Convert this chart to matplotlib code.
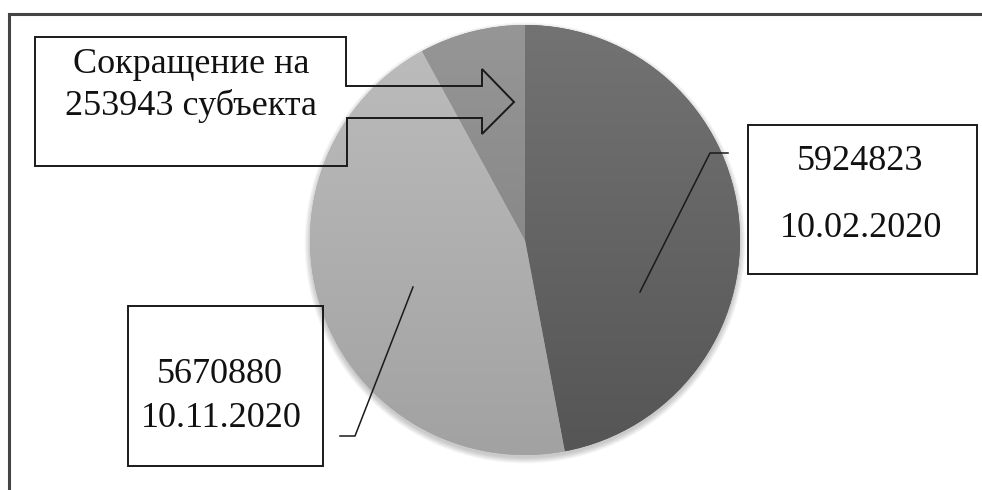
import matplotlib.pyplot as plt
import numpy as np
from matplotlib.patches import Circle, Polygon, Rectangle
from matplotlib.colors import LinearSegmentedColormap

plt.rcParams['font.family'] = ['Liberation Serif', 'DejaVu Serif']

# data: slice values (third slice size)
slice_values = [5924823, 5670880, 1000000]
slice_top = ['#737373', '#bdbdbd', '#969696']
slice_bottom = ['#555555', '#a2a2a2', '#7c7c7c']

reduction_lines = ['Сокращение на', '253943 субъекта']
feb_lines = ['5924823', '10.02.2020']
nov_lines = ['5670880', '10.11.2020']

W, H = 982, 490


def Y(y):
    # picture rows (top down) -> axis y (bottom up)
    return H - y


fig = plt.figure(figsize=(W / 100, H / 100), dpi=100)
ax = fig.add_axes([0, 0, 1, 1])

cx, cy, r = 525, 240, 215

# soft shadow around the pie
for k in range(7):
    ax.add_patch(Circle((cx, Y(cy + 3)), r + k * 0.9, color='black',
                        alpha=0.03, lw=0, zorder=1))

wedges, _ = ax.pie(slice_values, startangle=90, counterclock=False,
                   center=(cx, Y(cy)), radius=r, colors=slice_bottom,
                   wedgeprops=dict(linewidth=0, zorder=2))

grad = np.linspace(0, 1, 256).reshape(-1, 1)
for w, ct, cb in zip(wedges, slice_top, slice_bottom):
    cmap = LinearSegmentedColormap.from_list('g', [ct, cb])
    im = ax.imshow(grad, cmap=cmap, aspect='auto', origin='upper',
                   extent=(cx - r, cx + r, Y(cy + r), Y(cy - r)), zorder=3)
    im.set_clip_path(w)

lc = '#1a1a1a'

# callout box with arrow
callout = [(35, 37), (346, 37), (346, 86), (482, 86), (482, 69), (514, 102),
           (482, 134), (482, 118), (347, 118), (347, 166), (35, 166)]
ax.add_patch(Polygon([(x, Y(y)) for x, y in callout], closed=True,
                     fill=False, edgecolor=lc, lw=1.4, zorder=5))

# label boxes
ax.add_patch(Rectangle((748, Y(274)), 977 - 748, 274 - 125, fill=False,
                       edgecolor=lc, lw=1.4, zorder=5))
ax.add_patch(Rectangle((128, Y(466)), 323 - 128, 466 - 306, fill=False,
                       edgecolor=lc, lw=1.4, zorder=5))

# leader lines
ax.plot([640, 710, 728], [Y(292), Y(153), Y(153)], color=lc, lw=1.1, zorder=5)
ax.plot([413, 355, 340], [Y(287), Y(436), Y(436)], color=lc, lw=1.1, zorder=5)

fs = 26
for txt, x, y in [(reduction_lines[0], 191, 73), (reduction_lines[1], 191, 115),
                  (feb_lines[0], 860, 170), (feb_lines[1], 861, 237),
                  (nov_lines[0], 220, 383), (nov_lines[1], 221, 427)]:
    ax.text(x, Y(y), txt, ha='center', va='baseline', fontsize=fs,
            color='#111111', zorder=6)

# outer frame (top and left edges visible)
ax.plot([9, W], [Y(14), Y(14)], color='#444444', lw=2.2, zorder=7)
ax.plot([9, 9], [Y(14), 0], color='#444444', lw=2.2, zorder=7)

ax.set_xlim(0, W)
ax.set_ylim(0, H)
ax.set_aspect('auto')
ax.axis('off')

fig.savefig('out.png', dpi=100, facecolor='white')
